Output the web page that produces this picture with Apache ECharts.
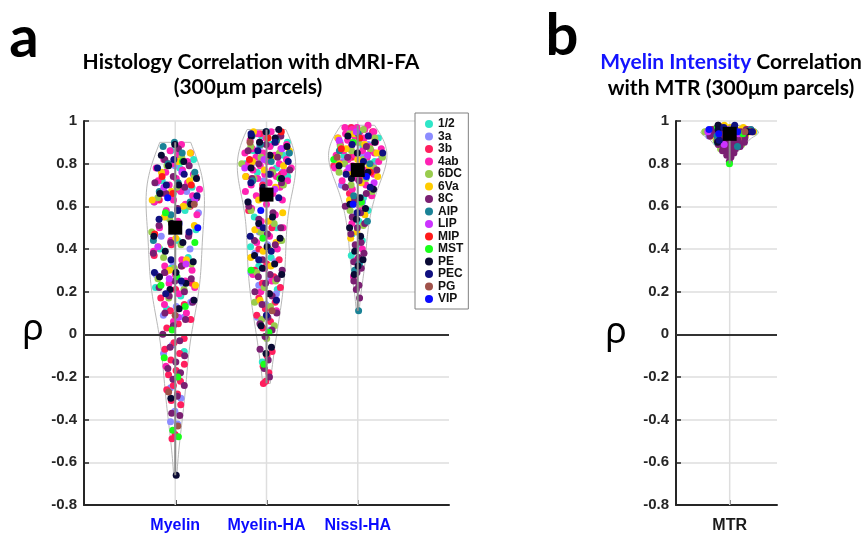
<!DOCTYPE html>
<html>
<head>
<meta charset="utf-8">
<script src="https://cdn.jsdelivr.net/npm/echarts@6/dist/echarts.min.js"></script>
<style>
html,body{margin:0;padding:0;background:#fff;}
#main{width:867px;height:534px;}
</style>
</head>
<body>
<div id="main"></div>
<script>
// areas shown in the legend
const areas = ['1/2','3a','3b','4ab','6DC','6Va','8C','AIP','LIP','MIP','MST','PE','PEC','PG','VIP'];
const areaColors = ['#2ee6c8','#8c8cff','#ff1f5e','#ff22b4','#99cc4d','#ffcc00','#7a1f72','#1a8296','#cc33ff','#ff1a1a','#1aff1a','#0a0a33','#101080','#a0524a','#0a0aff'];

const groupsA = ['Myelin','Myelin-HA','Nissl-HA'];
const groupsB = ['MTR'];

// rho values per area (same order as areas)
const myelinRho = [
  [0.86,0.82,0.78,0.72,0.69,0.66,0.62,0.58,0.55,0.49,0.44,0.40,0.36,0.31,0.22,0.18,0.12,-0.08],
  [0.79,0.71,0.67,0.64,0.57,0.52,0.46,0.40,0.34,0.28,0.24,0.19,0.15,0.13,0.09,0.08,-0.05,-0.09,-0.20,-0.25,-0.30,-0.36,-0.41,-0.42],
  [0.80,0.74,0.68,0.63,0.60,0.42,0.37,0.32,0.29,0.24,0.21,0.17,0.14,0.11,0.07,0.05,0.03,-0.02,-0.04,-0.07,-0.09,-0.12,-0.14,-0.17,-0.19,-0.22,-0.24,-0.26,-0.28,-0.31,-0.33,-0.47,-0.49],
  [0.89,0.86,0.85,0.84,0.82,0.81,0.80,0.78,0.77,0.76,0.75,0.73,0.72,0.71,0.70,0.68,0.67,0.66,0.65,0.63,0.62,0.61,0.58,0.56,0.53,0.50,0.47,0.44,0.39,0.35,0.32,0.30,0.28,0.27,0.25,0.24,0.22,0.19,0.14,0.10,0.06,-0.15],
  [0.83,0.79,0.74,0.69,0.64,0.60,0.54,0.48,0.42,0.36,0.33,0.31,0.26,0.21,0.17],
  [0.85,0.81,0.76,0.72,0.67,0.63,0.60,0.55,0.51,0.45,0.41,0.35,0.30,0.23],
  [0.87,0.82,0.79,0.74,0.71,0.69,0.66,0.64,0.59,0.51,0.46,0.43,0.38,0.32,0.29,0.26,0.25,0.22,0.20,0.18,0.15,0.12,0.10,0.07,0.04,0.00,-0.03,-0.06,-0.10,-0.13,-0.16,-0.18,-0.21,-0.24,-0.29,-0.37,-0.38],
  [0.90,0.88,0.85,0.80,0.76,0.71,0.67,0.62,0.56,0.44],
  [0.76,0.69,0.63,0.49,0.41,0.33,0.26,0.16,0.08],
  [0.74,0.70,0.66,0.47],
  [0.81,0.57,0.43,0.27,0.23,0.13,0.02,-0.11,-0.20,-0.45,-0.48],
  [0.89,0.84,0.81,0.79,0.73,0.70,0.66,0.61,0.52,0.46,0.43,0.39,0.34,0.29,0.27,0.24,0.21,0.16,0.12,-0.30,-0.66],
  [0.82,0.78,0.75,0.70,0.65,0.58,0.54,0.48,0.35,0.29,0.25,0.19],
  [0.61,0.09,-0.27,-0.43],
  [0.64,0.50]
];
const myelinHaRho = [
  [0.93,0.90,0.89,0.86,0.84,0.82,0.80,0.78,0.76,0.74,0.66,0.55,0.50,0.47,0.41,0.36,0.32,0.21,0.12,-0.13],
  [0.91,0.88,0.85,0.83,0.80,0.76,0.72,0.62,0.52,0.48,0.44,0.42,0.38,0.34,0.31,0.29,0.26,0.23,0.19,0.14,0.08,0.02],
  [0.94,0.88,0.84,0.79,0.75,0.70,0.58,0.50,0.40,0.35,0.33,0.30,0.27,0.24,0.22,0.19,0.17,0.15,0.12,0.09,0.06,0.03,-0.08,-0.10,-0.15,-0.18,-0.22,-0.23],
  [0.95,0.94,0.93,0.92,0.91,0.90,0.90,0.89,0.88,0.87,0.87,0.85,0.85,0.84,0.83,0.82,0.81,0.80,0.80,0.79,0.78,0.77,0.77,0.76,0.75,0.74,0.74,0.73,0.72,0.71,0.70,0.69,0.68,0.67,0.66,0.65,0.63,0.61,0.59,0.56,0.53,0.50,0.46,0.43,0.40,0.31,0.28,0.25,0.20,0.11],
  [0.92,0.88,0.85,0.83,0.80,0.76,0.73,0.70,0.64,0.58,0.52,0.48,0.44,0.40,0.29,0.25,0.22,0.15,0.13,0.07,0.04,-0.02],
  [0.95,0.91,0.89,0.86,0.83,0.81,0.79,0.77,0.74,0.69,0.63,0.57,0.53,0.49,0.43,0.39,0.36,0.32,0.16],
  [0.93,0.89,0.86,0.83,0.80,0.77,0.75,0.73,0.71,0.66,0.60,0.57,0.54,0.50,0.47,0.44,0.42,0.35,0.30,0.28,0.27,0.26,0.24,0.20,0.18,0.14,0.10,0.08,0.05,0.02,-0.01,-0.07,-0.12,-0.16,-0.20],
  [0.95,0.93,0.91,0.89,0.85,0.81,0.72],
  [0.87,0.82,0.78,0.68,0.51],
  [0.95,0.92,0.82],
  [0.73,0.45,0.30,0.01,-0.14],
  [0.96,0.95,0.93,0.92,0.90,0.88,0.84,0.78,0.73,0.69,0.62,0.55,0.52,0.45,0.41,0.37,0.33,0.31,0.28,0.19,0.04,-0.06,-0.09],
  [0.94,0.90,0.86,0.81,0.75,0.71,0.64,0.50,0.46,0.39,0.35,0.16,0.09],
  [0.90,0.11],
  [0.58]
];
const nisslHaRho = [
  [0.95,0.92,0.88,0.84,0.81,0.78,0.70,0.64,0.61,0.58,0.53,0.47,0.44,0.41,0.37,0.33],
  [0.96,0.94,0.93,0.90,0.89,0.87,0.84,0.83,0.81,0.79,0.76,0.70,0.62],
  [0.97,0.95,0.91,0.88,0.86,0.83,0.79,0.74,0.66],
  [0.98,0.97,0.97,0.96,0.96,0.95,0.95,0.94,0.93,0.93,0.92,0.92,0.91,0.90,0.90,0.89,0.88,0.88,0.87,0.86,0.86,0.85,0.84,0.84,0.83,0.82,0.81,0.81,0.80,0.79,0.79,0.78,0.77,0.76,0.75,0.73,0.72,0.70,0.68,0.65,0.60,0.52,0.40,0.35,0.27],
  [0.96,0.94,0.92,0.90,0.88,0.87,0.86,0.83,0.82,0.80,0.78,0.77,0.76,0.73,0.70,0.67,0.61,0.58,0.51],
  [0.94,0.92,0.89,0.87,0.85,0.82,0.80,0.79,0.76,0.74,0.71,0.63,0.56,0.48,0.45],
  [0.88,0.83,0.77,0.72,0.69,0.66,0.63,0.60,0.57,0.55,0.52,0.50,0.47,0.43,0.42,0.38,0.36,0.34,0.31,0.29,0.25,0.23,0.21,0.17],
  [0.94,0.86,0.80,0.65,0.53,0.33,0.30,0.11],
  [0.95,0.91,0.84,0.78,0.71],
  [0.92,0.87,0.76],
  [0.90,0.82,0.62],
  [0.93,0.90,0.85,0.79,0.76,0.73,0.68,0.64,0.61,0.59,0.54,0.50,0.46,0.39,0.35,0.32,0.28],
  [0.93,0.89,0.85,0.81,0.75,0.69,0.57],
  [0.83],
  [0.74,0.61]
];
const mtrRho = [
  [0.96,0.95,0.95,0.94,0.93,0.92,0.90,0.89],
  [0.97,0.96,0.96,0.95,0.95,0.94,0.93,0.92,0.90],
  [0.96,0.95,0.94,0.93],
  [0.97,0.96,0.96,0.95,0.95,0.94,0.93,0.91,0.90,0.88],
  [0.97,0.96,0.96,0.95,0.95,0.94,0.94,0.93,0.92,0.91,0.90,0.90,0.89,0.89,0.88,0.88,0.87,0.87,0.86],
  [0.98,0.97,0.97,0.96,0.96,0.96,0.95,0.95,0.95,0.94,0.94,0.93,0.92,0.91,0.91,0.90,0.89,0.88,0.87],
  [0.98,0.97,0.97,0.96,0.96,0.96,0.95,0.95,0.95,0.94,0.94,0.94,0.93,0.93,0.93,0.92,0.92,0.92,0.91,0.91,0.91,0.90,0.90,0.90,0.89,0.89,0.89,0.88,0.88,0.88,0.87,0.87,0.87,0.86,0.86,0.86,0.85,0.85,0.84,0.84,0.83,0.81],
  [0.96,0.95,0.93,0.88],
  [0.96,0.95,0.94,0.89],
  [0.95,0.94],
  [0.97,0.94,0.80],
  [0.98,0.97,0.96,0.95,0.94,0.90],
  [0.98,0.97,0.95,0.93,0.91],
  [0.95,0.94],
  [0.96,0.95,0.94]
];
// black square markers
const markA = [0.50, 0.655, 0.77];
const markB = [0.94];

const HALF = 0.32;      // max half width of a violin, x units
const PHI = 0.6180339887;

function kdeOf(vals){
    let n = vals.length;
    let m = vals.reduce((a,b)=>a+b,0)/n;
    let sd = Math.sqrt(vals.reduce((a,b)=>a+(b-m)*(b-m),0)/(n-1));
    let h = 1.3*1.06*sd*Math.pow(n,-0.2);
    return y => vals.reduce((s,v)=>s+Math.exp(-0.5*((y-v)/h)*((y-v)/h)),0);
}
function violin(rhoByArea, c){
    let all = [].concat(...rhoByArea);
    let lo = Math.min(...all), hi = Math.max(...all);
    let f = kdeOf(all), steps = 80, ys = [];
    for(let i=0;i<=steps;i++) ys.push(lo+(hi-lo)*i/steps);
    let dmax = Math.max(...ys.map(f));
    let w = y => HALF*f(y)/dmax;
    let left = ys.map(y=>[c-w(y),y]);
    let right = ys.map(y=>[c+w(y),y]).reverse();
    let k = 0;
    let dots = rhoByArea.map(list=>list.map(v=>{
        let u = ((k++*PHI+0.37)%1)*2-1;
        return [c+u*w(v)*0.86, v];
    }));
    return {outline: left.concat(right,[left[0]]), dots, lo, hi};
}

const violinsA = [myelinRho, myelinHaRho, nisslHaRho].map((g,i)=>violin(g,i+1));
const violinsB = [mtrRho].map((g,i)=>violin(g,i+1));

const axisCol = '#262626', gridCol = '#dedede';
const tickFont = {fontFamily:'Liberation Sans, Arial', fontWeight:'bold'};

function yAxisOf(gi){
    return {
        type:'value', gridIndex:gi, min:-0.8, max:1, interval:0.2,
        axisLine:{show:true, lineStyle:{color:axisCol, width:2}},
        axisTick:{show:true, inside:true, length:5, lineStyle:{color:axisCol, width:1.5}},
        splitLine:{show:true, lineStyle:{color:gridCol, width:1.5}},
        axisLabel:Object.assign({color:axisCol, fontSize:15, margin:7, formatter:v=>String(Number(v.toFixed(1)))}, tickFont)
    };
}
function xAxisOf(gi, min, max, names, col){
    let vals = names.map((n,i)=>i+1);
    return {
        type:'value', gridIndex:gi, min:min, max:max,
        axisLine:{show:true, onZero:false, lineStyle:{color:axisCol, width:2}},
        axisTick:{show:true, customValues:vals, inside:true, length:5, lineStyle:{color:axisCol, width:1.5}},
        splitLine:{show:false},
        axisLabel:Object.assign({customValues:vals, color:col, fontSize:16, margin:13, formatter:v=>names[Math.round(v)-1]||''}, tickFont)
    };
}

function seriesFor(gi, vs, marks){
    let s = [];
    // background: vertical grid lines and the zero line
    vs.forEach((v,i)=>{
        s.push({type:'line', xAxisIndex:gi, yAxisIndex:gi, z:1, silent:true, symbol:'none',
            lineStyle:{color:gridCol, width:1.5}, data:[[i+1,-0.8],[i+1,1]],
            markLine: i ? undefined : {silent:true, symbol:'none', label:{show:false},
                lineStyle:{color:'#333', width:2, type:'solid'}, data:[{yAxis:0}]}
        });
        s.push({type:'line', xAxisIndex:gi, yAxisIndex:gi, z:2, silent:true, symbol:'none',
            lineStyle:{color:'#b8b8b8', width:1}, data:v.outline});
    });
    areas.forEach((a,ai)=>{
        s.push({type:'scatter', name:a, xAxisIndex:gi, yAxisIndex:gi, z:2, symbolSize:7,
            itemStyle:{color:areaColors[ai], opacity:1},
            data:[].concat(...vs.map(v=>v.dots[ai]))});
    });
    vs.forEach((v,i)=>{
        s.push({type:'line', xAxisIndex:gi, yAxisIndex:gi, z:3, silent:true, symbol:'none',
            lineStyle:{color:'#8c8c8c', width:2}, data:[[i+1,v.lo],[i+1,v.hi]]});
    });
    s.push({type:'scatter', xAxisIndex:gi, yAxisIndex:gi, z:10, silent:true, symbol:'rect', symbolSize:14,
        itemStyle:{color:'#000', opacity:1}, data:marks.map((m,i)=>[i+1,m])});
    return s;
}

const titleFont = 'Lato, "Noto Sans", sans-serif';
function txt(x,y,text,size,extra){
    return {type:'text', x:x, y:y, silent:true, style:Object.assign({
        text:text, fontFamily:titleFont, fontWeight:'bold', fontSize:size, fill:'#000',
        align:'center', verticalAlign:'middle'}, extra||{})};
}

let chart = echarts.init(document.getElementById('main'));
chart.setOption({
    animation:false,
    backgroundColor:'#fff',
    grid:[
        {left:84, right:418, top:121, bottom:28.5},
        {left:676, right:90, top:121, bottom:28.5}
    ],
    xAxis:[xAxisOf(0,0,4,groupsA,'#0a0aff'), xAxisOf(1,0.41,1.52,groupsB,'#1a1a1a')],
    yAxis:[yAxisOf(0), yAxisOf(1)],
    legend:{
        data:areas.map(n=>({name:n, icon:'circle'})),
        orient:'vertical', left:415, top:113, itemWidth:8, itemHeight:8, itemGap:0.5,
        padding:[5,5,4,10], borderColor:'#808080', borderWidth:1, backgroundColor:'#fff',
        selectedMode:false,
        textStyle:{fontFamily:'Liberation Sans, Arial', fontWeight:'bold', fontSize:12, color:'#111', lineHeight:12}
    },
    series:seriesFor(0, violinsA, markA).concat(seriesFor(1, violinsB, markB)),
    graphic:[
        txt(24,38,'a',58),
        txt(562,36,'b',58),
        txt(251,62,'Histology Correlation with dMRI-FA',21),
        txt(248,87,'(300\u03bcm parcels)',21),
        txt(731,62,'{bl|Myelin Intensity} Correlation',21,{rich:{bl:{fill:'#1414ff', fontFamily:titleFont, fontWeight:'bold', fontSize:21}}}),
        txt(731,88,'with MTR (300\u03bcm parcels)',21),
        txt(33,330,'\u03c1',36,{fontWeight:'normal', fontFamily:'"Noto Sans", sans-serif'}),
        txt(616,333,'\u03c1',36,{fontWeight:'normal', fontFamily:'"Noto Sans", sans-serif'})
    ]
});
</script>
</body>
</html>
